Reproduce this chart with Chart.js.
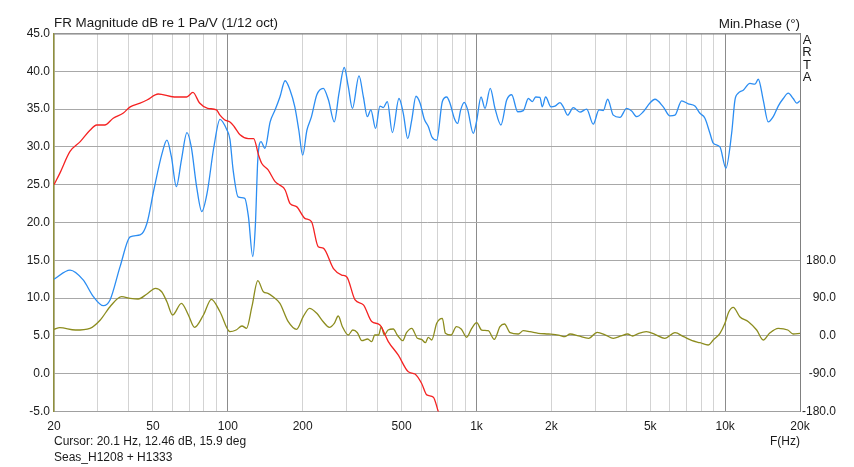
<!DOCTYPE html>
<html>
<head>
<meta charset="utf-8">
<title>FR Magnitude</title>
<script src="https://cdn.jsdelivr.net/npm/chart.js@4/dist/chart.umd.min.js"></script>
<style>
html, body { margin: 0; padding: 0; background: #fff; }
#wrap { width: 854px; height: 467px; }
</style>
</head>
<body>
<div id="wrap"><canvas id="chart" width="854" height="467"></canvas></div>
<script>
"use strict";

// woofer (red), tweeter (blue) in dB, min. phase (olive) in degrees
var redFreq = [20, 21.1, 23.2, 25.5, 27.9, 29.7, 32, 34.6, 37.9, 40.5, 44.4, 47.3, 52.5, 60.9, 68.3, 72.4, 77, 83, 90, 93, 97, 102, 106, 112, 121, 127, 133, 137, 145, 155, 170, 178, 189, 204, 217, 231, 242, 266, 287, 301, 325, 351, 379, 409, 442, 485, 532, 566, 602, 631, 671, 702, 730];
var redDb = [25.0, 26.5, 29.4, 30.7, 32.2, 32.9, 32.9, 33.8, 34.45, 35.3, 35.8, 36.2, 37.0, 36.6, 36.6, 37.2, 35.8, 35.1, 34.9, 34.2, 33.6, 33.3, 32.7, 31.6, 31.1, 31.1, 28.9, 27.8, 27.0, 25.4, 24.3, 22.5, 22.1, 20.55, 20.1, 16.8, 16.6, 13.9, 13.05, 12.8, 9.75, 9.1, 6.9, 6.45, 4.25, 2.45, 0.25, -0.05, -1.3, -2.8, -3.1, -5.0, -6.5];

var blueFreq = [20, 23.2, 26.2, 28.8, 31.6, 33.6, 36.9, 40.5, 44.4, 47.3, 50.4, 54.4, 56.9, 59.3, 62.1, 65.1, 68.5, 71.3, 74.9, 78.6, 82.5, 87.9, 93, 99, 102, 105, 110, 117, 121, 126, 129, 132, 136, 141, 148, 155, 162, 170, 178, 186, 193, 200, 208, 217, 228, 242, 254, 268, 280, 294, 305, 317, 337, 351, 364, 376, 393, 409, 422, 438, 459, 488, 508, 529, 549, 571, 593, 617, 640, 661, 692, 729, 759, 782, 814, 840, 864, 893, 922, 971, 1000, 1043, 1082, 1136, 1187, 1254, 1323, 1385, 1465, 1543, 1616, 1677, 1730, 1800, 1839, 1897, 1994, 2069, 2167, 2234, 2327, 2450, 2608, 2774, 2949, 3109, 3235, 3370, 3549, 3776, 4018, 4207, 4406, 4686, 4984, 5221, 5637, 5998, 6284, 6684, 7104, 7559, 7920, 8294, 8687, 8958, 9530, 10070, 10620, 10950, 11290, 11820, 12580, 13180, 13590, 14230, 14900, 15610, 16350, 17130, 17940, 18780, 19400, 20000];
var blueDb = [12.5, 13.7, 12.4, 10.2, 9.0, 9.75, 14.2, 18.1, 18.35, 19.9, 24.3, 29.15, 30.9, 28.7, 24.75, 28.3, 31.9, 30.0, 24.75, 21.45, 23.85, 30.0, 33.65, 32.3, 31.0, 27.0, 23.4, 23.2, 20.8, 15.5, 19.45, 28.3, 30.7, 29.8, 33.3, 34.9, 36.6, 38.75, 37.5, 35.3, 32.2, 28.9, 32.2, 34.0, 36.9, 37.75, 36.2, 33.3, 37.1, 40.5, 38.0, 35.1, 39.4, 36.6, 34.0, 34.9, 32.45, 35.4, 35.2, 36.0, 31.9, 36.4, 34.4, 31.1, 33.55, 36.7, 35.8, 33.65, 32.7, 31.35, 30.9, 36.0, 36.6, 35.8, 33.8, 33.1, 34.9, 35.9, 34.9, 31.8, 33.3, 36.6, 35.1, 37.75, 35.1, 32.9, 36.2, 36.9, 34.65, 34.8, 36.4, 36.0, 36.6, 36.55, 35.3, 36.6, 35.3, 35.4, 35.85, 35.3, 34.2, 35.2, 34.6, 35.0, 33.0, 34.9, 34.8, 36.3, 34.2, 33.9, 35.1, 34.75, 34.0, 34.65, 35.8, 36.3, 35.3, 34.1, 34.2, 36.1, 35.7, 35.4, 34.45, 33.8, 31.8, 30.5, 30.0, 27.2, 31.8, 36.2, 37.1, 37.5, 38.4, 38.3, 38.95, 36.2, 33.3, 34.0, 35.4, 36.4, 37.1, 36.4, 35.8, 36.1];

var phaseFreq = [20, 21.1, 24.4, 27.9, 30.7, 33.6, 37.4, 40.5, 43.6, 47.3, 51.2, 54.2, 56.9, 60.0, 65.1, 69.4, 73.5, 79.8, 85.9, 93, 102, 108, 114, 119, 125, 132, 139, 145, 152, 162, 175, 189, 201, 213, 228, 242, 256, 268, 278, 289, 305, 318, 332, 346, 365, 379, 390, 404, 414, 426, 441, 463, 480, 505, 523, 549, 579, 601, 623, 640, 661, 692, 729, 750, 791, 830, 870, 913, 957, 1002, 1049, 1115, 1179, 1243, 1296, 1366, 1473, 1543, 1641, 1773, 1947, 2136, 2271, 2380, 2572, 2825, 3060, 3305, 3549, 3816, 4056, 4241, 4496, 4820, 5220, 5720, 6284, 6810, 7370, 7920, 8550, 8958, 9530, 9980, 10350, 10780, 11450, 12400, 13390, 14230, 15080, 16350, 17860, 18780, 20000];
var phaseDeg = [15.7, 19.5, 14.0, 18.1, 37.9, 69.5, 93.3, 89.5, 87.9, 99.8, 113.3, 105.2, 81.4, 49.8, 77.6, 49.8, 20.5, 49.8, 87.1, 57.6, 10.0, 14.0, 23.6, 18.1, 69.5, 131.4, 105.2, 101.4, 93.3, 77.6, 33.8, 15.7, 45.7, 65.7, 53.8, 33.8, 20.5, 30.0, 47.4, 21.9, 2.1, 14.0, 7.6, -11.4, -7.4, -13.8, 2.1, 2.1, 21.9, 2.1, 14.0, 16.4, 2.1, -11.4, 7.6, 18.1, -5.7, -8.1, -16.2, -3.3, -9.8, 30.0, 41.9, 6.2, 2.1, 21.9, 15.7, -3.3, 18.1, 31.4, 14.0, 12.4, -8.1, 21.9, 28.3, 7.6, 4.5, 12.4, 10.0, 6.2, 4.5, 2.1, -1.9, 4.5, -0.2, -5.7, 8.6, 2.1, -5.7, -0.2, 4.5, -0.2, 6.2, 10.0, 3.8, -5.7, 7.6, -1.9, -11.4, -16.2, -21.7, -9.8, 6.2, 30.0, 57.6, 68.1, 45.7, 33.8, 14.0, -9.8, 6.2, 18.1, 14.0, 4.5, 6.2];

// axis ticks
var gridFreqs = [20, 30, 40, 50, 60, 70, 80, 90, 100, 200, 300, 400, 500, 600, 700, 800, 900, 1000, 2000, 3000, 4000, 5000, 6000, 7000, 8000, 9000, 10000, 20000];
var xLabelFreqs = [20, 50, 100, 200, 500, 1000, 2000, 5000, 10000, 20000];
var xLabelText = ['20', '50', '100', '200', '500', '1k', '2k', '5k', '10k', '20k'];
var phaseTicks = [-180, -90, 0, 90, 180];

function points(xs, ys) {
    return xs.map(function (x, i) { return {x: x, y: ys[i]}; });
}

var FONT = '"Liberation Sans", Arial, sans-serif';
var INK = '#1a1a1a';

Chart.defaults.font.family = FONT;
Chart.defaults.font.size = 12;
Chart.defaults.color = INK;

var labelsPlugin = {
    id: 'artaLabels',
    afterDraw: function (chart) {
        var ctx = chart.ctx,
            area = chart.chartArea;

        ctx.save();
        // top frame line
        ctx.strokeStyle = '#808080';
        ctx.lineWidth = 1;
        ctx.beginPath();
        ctx.moveTo(area.left, area.top + 0.5);
        ctx.lineTo(area.right, area.top + 0.5);
        ctx.stroke();

        ctx.fillStyle = INK;
        ctx.textBaseline = 'middle';
        ctx.font = '13.4px ' + FONT;
        ctx.textAlign = 'left';
        ctx.fillText('FR Magnitude dB re 1 Pa/V (1/12 oct)', area.left, 23);
        ctx.textAlign = 'right';
        ctx.fillText('Min.Phase (\u00b0)', area.right, 24);

        ctx.font = '13px ' + FONT;
        ctx.textAlign = 'center';
        ['A', 'R', 'T', 'A'].forEach(function (ch, i) {
            ctx.fillText(ch, 807, 40.5 + i * 12.4);
        });

        ctx.font = '12px ' + FONT;
        ctx.textAlign = 'left';
        ctx.fillText('Cursor: 20.1 Hz, 12.46 dB, 15.9 deg', area.left, 442);
        ctx.fillText('Seas_H1208 + H1333', area.left, 458);
        ctx.textAlign = 'right';
        ctx.fillText('F(Hz)', area.right, 442);
        ctx.restore();
    }
};

new Chart(document.getElementById('chart').getContext('2d'), {
    type: 'line',
    data: {
        datasets: [{
            label: 'H1208',
            data: points(redFreq, redDb),
            yAxisID: 'y',
            borderColor: '#f52222',
            borderWidth: 1.3,
            pointRadius: 0,
            cubicInterpolationMode: 'monotone'
        }, {
            label: 'H1333',
            data: points(blueFreq, blueDb),
            yAxisID: 'y',
            borderColor: '#2b8df2',
            borderWidth: 1.3,
            pointRadius: 0,
            cubicInterpolationMode: 'monotone'
        }, {
            label: 'Min.Phase',
            data: points(phaseFreq, phaseDeg),
            yAxisID: 'y2',
            borderColor: '#8c8c1e',
            borderWidth: 1.3,
            pointRadius: 0,
            cubicInterpolationMode: 'monotone'
        }]
    },
    options: {
        responsive: false,
        animation: false,
        devicePixelRatio: 1,
        layout: {padding: {top: 33.5, right: 18, bottom: 0, left: 0}},
        plugins: {
            legend: {display: false},
            tooltip: {enabled: false}
        },
        scales: {
            x: {
                type: 'logarithmic',
                position: 'bottom',
                min: 20,
                max: 20000,
                afterBuildTicks: function (scale) {
                    scale.ticks = gridFreqs.map(function (v) { return {value: v}; });
                },
                afterFit: function (scale) { scale.height = 55.5; },
                ticks: {
                    autoSkip: false,
                    maxRotation: 0,
                    padding: 8,
                    color: INK,
                    callback: function (v) {
                        var i = xLabelFreqs.indexOf(v);
                        return i < 0 ? '' : xLabelText[i];
                    }
                },
                grid: {
                    drawTicks: false,
                    color: function (c) {
                        var v = c.tick && c.tick.value;
                        return (v === 100 || v === 1000 || v === 10000) ? '#8c8c8c' : '#d3d3d3';
                    }
                },
                border: {color: '#a0a0a0'}
            },
            y: {
                type: 'linear',
                position: 'left',
                min: -5,
                max: 45,
                afterFit: function (scale) { scale.width = 54; },
                ticks: {
                    stepSize: 5,
                    padding: 4,
                    color: INK,
                    callback: function (v) { return v.toFixed(1); }
                },
                grid: {drawTicks: false, color: '#a8a8a8'},
                border: {color: '#8f8f3c', width: 1.5}
            },
            y2: {
                type: 'linear',
                position: 'right',
                min: -180,
                max: 720,
                afterBuildTicks: function (scale) {
                    scale.ticks = phaseTicks.map(function (v) { return {value: v}; });
                },
                afterFit: function (scale) { scale.width = 36; },
                ticks: {
                    padding: 4,
                    crossAlign: 'far',
                    color: INK,
                    callback: function (v) { return v.toFixed(1); }
                },
                grid: {drawTicks: false, drawOnChartArea: false},
                border: {color: '#808080'}
            }
        }
    },
    plugins: [labelsPlugin]
});
</script>
</body>
</html>
